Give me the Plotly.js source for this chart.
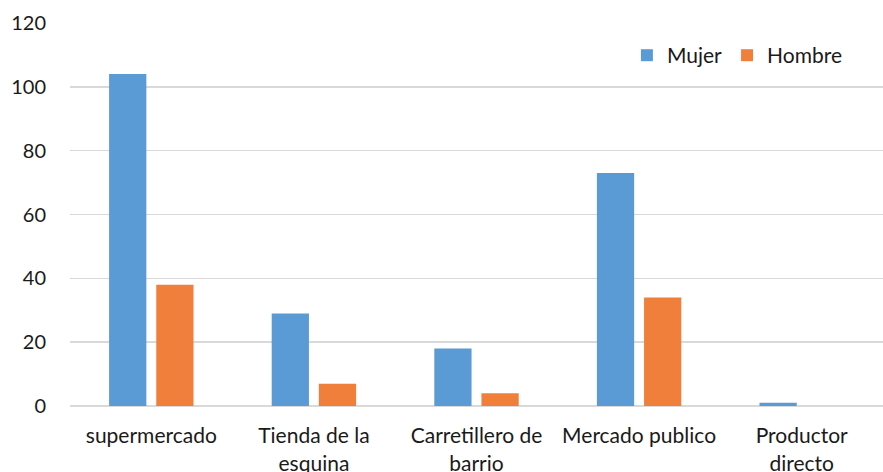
<!DOCTYPE html>
<html><head><meta charset="utf-8">
<script src="https://cdn.plot.ly/plotly-3.0.1.min.js"></script>
<style>html,body{margin:0;padding:0;background:#fff}#c{width:883px;height:472px}</style>
</head><body><div id="c"></div>
<script>
const categories = ["supermercado", "Tienda de la<br>esquina", "Carretillero de<br>barrio", "Mercado publico", "Productor<br>directo"];
const mujer = [104, 29, 18, 73, 1];
const hombre = [38, 7, 4, 34, 0];
const yTicks = [0, 20, 40, 60, 80, 100, 120];

const fam = "Lato, 'Open Sans', sans-serif";
const data = [
  {type: "bar", name: "Mujer", x: categories, y: mujer, marker: {color: "#5B9BD5", line: {width: 0}}},
  {type: "bar", name: "Hombre", x: categories, y: hombre, marker: {color: "#F07F3C", line: {width: 0}}}
];
const layout = {
  width: 883, height: 472,
  margin: {l: 70, r: 0, t: 23, b: 66, pad: 0},
  paper_bgcolor: "#fff", plot_bgcolor: "#fff",
  font: {family: fam, size: 20, color: "#1a1a1a"},
  barmode: "group", bargap: 0.42, bargroupgap: 0.21,
  showlegend: true,
  legend: {orientation: "h", x: 0.685, y: 0.915, xanchor: "left", yanchor: "middle",
           font: {family: fam, size: 21, color: "#1a1a1a"}, itemwidth: 30, bgcolor: "rgba(0,0,0,0)"},
  xaxis: {tickfont: {family: fam, size: 21, color: "#1a1a1a"}, ticks: "outside", ticklen: 11, tickcolor: "rgba(0,0,0,0)",
          showline: false, showgrid: false, fixedrange: true},
  yaxis: {range: [0, 120], tickvals: yTicks, ticktext: yTicks.map(String), tickfont: {family: fam, size: 20, color: "#1a1a1a"},
          showgrid: true, gridcolor: "#d9d9d9", gridwidth: 1.5,
          zeroline: true, zerolinecolor: "#d9d9d9", zerolinewidth: 2.5, ticks: "outside", ticklen: 19, tickcolor: "rgba(0,0,0,0)", showline: false}
};
Plotly.newPlot("c", data, layout, {displayModeBar: false, staticPlot: true});
</script></body></html>
